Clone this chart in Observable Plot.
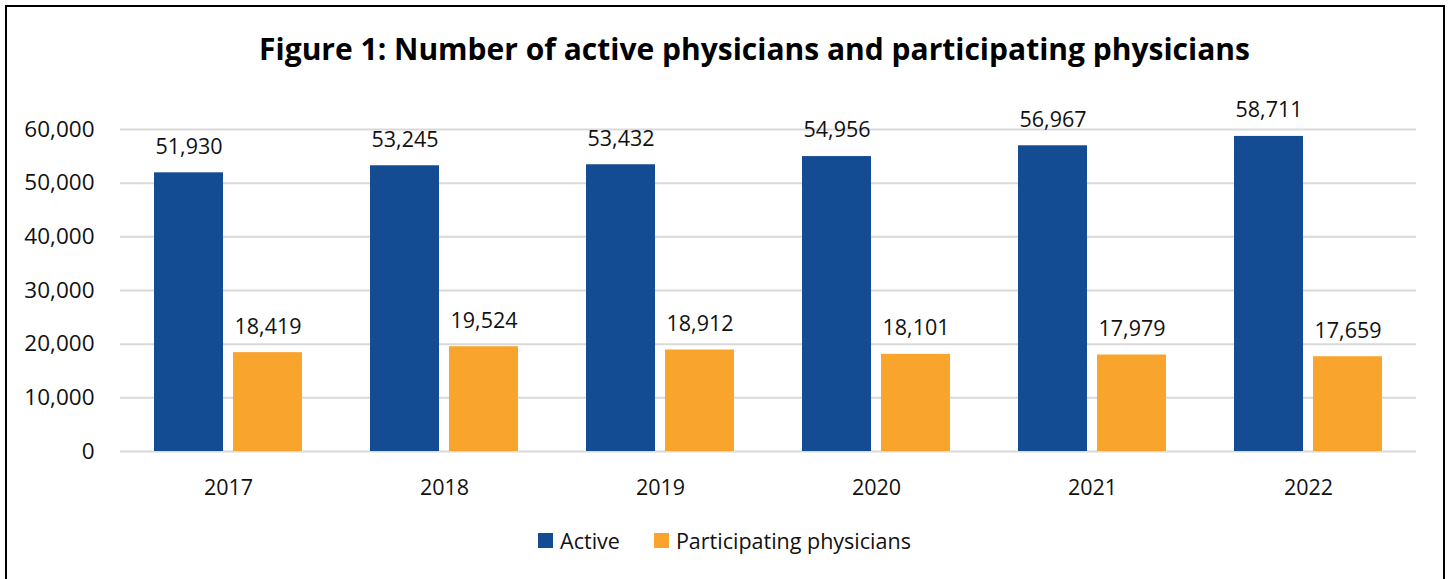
<!DOCTYPE html>
<html>
<head>
<meta charset="utf-8">
<script src="https://cdn.jsdelivr.net/npm/d3@7"></script>
<script src="https://cdn.jsdelivr.net/npm/@observablehq/plot@0.6"></script>
<style>
  html, body { margin: 0; padding: 0; background: #fff; width: 1449px; height: 579px; overflow: hidden; font-family: "Open Sans", "Noto Sans", sans-serif; }
  #frame { position: absolute; left: 5px; top: 5px; width: 1436px; height: 600px; border: 2px solid #000; }
  #title { position: absolute; left: 30px; top: 28px; width: 1449px; text-align: center; font-weight: 700; font-size: 30px; color: #000; }
  #chart { position: absolute; left: 0; top: 80px; }
  #legend { position: absolute; left: 0; top: 526px; width: 1449px; display: flex; justify-content: center; align-items: center; font-size: 21.5px; color: #111; }
  .sw { display: inline-block; width: 15px; height: 15px; margin-right: 7px; }
  .item { display: flex; align-items: center; margin: 0 17px 0 17px; }
</style>
</head>
<body>
<div id="frame"></div>
<div id="title">Figure 1: Number of active physicians and participating physicians</div>
<div id="chart"></div>
<div id="legend"></div>
<script>
const years = ["2017", "2018", "2019", "2020", "2021", "2022"];
const seriesNames = ["Active", "Participating physicians"];
const activeValues = [51930, 53245, 53432, 54956, 56967, 58711];
const participatingValues = [18419, 19524, 18912, 18101, 17979, 17659];
const yTicks = [0, 10000, 20000, 30000, 40000, 50000, 60000];
const colors = ["#144C94", "#F9A42D"];

const data = [];
years.forEach((yr, i) => {
  data.push({year: yr, series: seriesNames[0], value: activeValues[i]});
  data.push({year: yr, series: seriesNames[1], value: participatingValues[i]});
});

const fmt = d3.format(",");

const chart = Plot.plot({
  width: 1449,
  height: 440,
  marginTop: 49,
  marginBottom: 69,
  marginLeft: 118,
  marginRight: 32,
  style: {fontFamily: '"Open Sans", "Noto Sans", sans-serif', fontSize: "21px", color: "#111", background: "transparent"},
  fx: {domain: years, padding: 0, label: null},
  x: {domain: seriesNames, paddingInner: 0.13, paddingOuter: 0.42, axis: null},
  y: {domain: [0, 60000], label: null},
  color: {domain: seriesNames, range: colors},
  marks: [
    Plot.gridY(yTicks, {stroke: "#d9d9d9", strokeOpacity: 1, strokeWidth: 2}),
    Plot.barY(data, {fx: "year", x: "series", y: "value", fill: "series"}),
    Plot.text(data, {fx: "year", x: "series", y: "value", text: d => fmt(d.value), dy: -26, fontSize: 21.5, fill: "#111"}),
    Plot.axisY(yTicks, {tickFormat: fmt, tickSize: 0, tickPadding: 26, fontSize: 22.5, fill: "#111"}),
    Plot.axisFx({anchor: "bottom", tickSize: 0, tickPadding: 28, fontSize: 21.5, fill: "#111", label: null})
  ]
});
document.getElementById("chart").appendChild(chart);

const legend = document.getElementById("legend");
seriesNames.forEach((name, i) => {
  const item = document.createElement("div");
  item.className = "item";
  const sw = document.createElement("span");
  sw.className = "sw";
  sw.style.background = colors[i];
  const label = document.createElement("span");
  label.textContent = name;
  item.appendChild(sw);
  item.appendChild(label);
  legend.appendChild(item);
});
</script>
</body>
</html>
